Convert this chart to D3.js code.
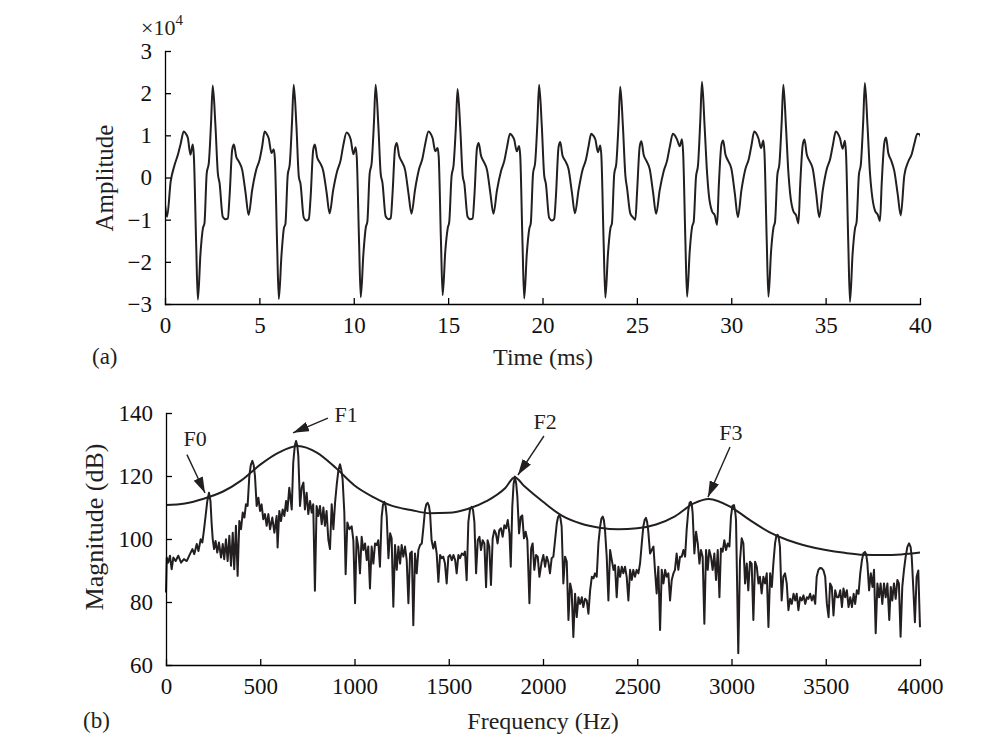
<!DOCTYPE html>
<html>
<head>
<meta charset="utf-8">
<script src="https://cdn.jsdelivr.net/npm/d3@7"></script>
<style>
	html, body { margin: 0; padding: 0; background: #fff; }
	svg { display: block; font-family: "Liberation Serif", "DejaVu Serif", serif; }
	.axis path, .axis line { stroke: #000; stroke-width: 1.3; }
	.axis text { font-family: "Liberation Serif", "DejaVu Serif", serif; font-size: 23px; fill: #111; }
</style>
</head>
<body>
<svg id="chart" width="1008" height="753"></svg>
<script>
(function (d3) {
	"use strict";

	/***** Data *****/

	// waveform: one row per pitch cycle, sampled at the same offsets (ms) after each broad peak
	var cycleOffset = [0, 0.10, 0.22, 0.36, 0.48, 0.54, 0.66, 0.75, 0.89, 1.02, 1.10, 1.22, 1.33, 1.45, 1.54,
		1.68, 1.81, 1.90, 2.07, 2.22, 2.34, 2.43, 2.57, 2.66, 2.78, 2.92, 3.10, 3.28, 3.44, 3.63, 3.84, 4.02, 4.16];
	var cycleStart = [-3.33, 0.99, 5.28, 9.62, 13.96, 18.28, 22.58, 26.91, 31.22, 35.54, 39.86];
	var cycleAmp = [
		[1.08,1.04,0.93,0.55,0.77, 0.50,-1.50,-2.85,-1.80,-1.20, -1.08,0.10,0.34,1.30,2.16, 1.24,0.10,-0.13,-0.92,-0.98, -0.96,-0.45,0.65,0.77,0.50, 0.38,0.18,-0.45,-0.93,-0.10, 0.30,0.55,0.80],
		[1.09,1.05,0.94,0.54,0.78, 0.50,-1.56,-2.90,-1.80,-1.20, -1.09,0.10,0.34,1.30,2.18, 1.25,0.10,-0.13,-0.93,-0.99, -0.97,-0.45,0.66,0.78,0.50, 0.38,0.18,-0.37,-0.89,-0.29, 0.18,0.42,0.74],
		[1.09,1.04,0.92,0.58,0.67, 0.45,-1.60,-2.88,-1.85,-1.20, -1.10,0.05,0.32,1.32,2.20, 1.25,0.02,-0.15,-0.95,-1.02, -0.98,-0.50,0.65,0.78,0.48, 0.36,0.16,-0.35,-0.85,-0.30, 0.15,0.40,0.75],
		[1.07,1.03,0.90,0.55,0.72, 0.48,-1.50,-2.84,-1.82,-1.18, -1.05,0.08,0.35,1.30,2.20, 1.26,0.08,-0.12,-0.92,-0.99, -0.96,-0.42,0.70,0.82,0.52, 0.38,0.18,-0.38,-0.86,-0.28, 0.20,0.45,0.78],
		[1.09,1.05,0.93,0.62,0.70, 0.50,-1.50,-2.79,-1.75,-1.20, -1.05,0.02,0.30,1.20,2.10, 1.20,0.05,-0.15,-0.93,-0.99, -0.97,-0.45,0.70,0.82,0.52, 0.38,0.18,-0.38,-0.86,-0.30, 0.15,0.40,0.72],
		[1.04,1.00,0.90,0.62,0.75, 0.52,-1.55,-2.87,-1.80,-1.22, -1.08,0.10,0.35,1.30,2.20, 1.25,0.05,-0.15,-0.95,-1.02, -0.98,-0.45,0.72,0.84,0.52, 0.40,0.20,-0.36,-0.85,-0.30, 0.18,0.42,0.74],
		[1.04,1.00,0.90,0.60,0.76, 0.50,-1.55,-2.85,-1.80,-1.20, -1.08,0.08,0.33,1.28,2.15, 1.22,0.05,-0.25,-0.85,-0.95, -1.00,-0.35,0.74,0.86,0.54, 0.40,0.20,-0.36,-0.86,-0.30, 0.15,0.40,0.72],
		[1.04,1.00,0.90,0.74,0.91, 0.60,-1.50,-2.83,-1.75,-1.16, -1.05,0.00,0.30,1.35,2.27, 1.20,0.10,-0.40,-0.80,-0.90, -1.12,-0.20,0.78,0.88,0.55, 0.40,0.20,-0.38,-0.94,-0.30, 0.20,0.44,0.76],
		[1.09,1.05,0.93,0.70,0.88, 0.58,-1.50,-2.83,-1.75,-1.18, -1.05,0.05,0.32,1.30,2.20, 1.20,0.10,-0.38,-0.80,-0.90, -1.09,-0.20,0.78,0.90,0.55, 0.40,0.20,-0.38,-0.94,-0.30, 0.20,0.44,0.76],
		[1.09,1.05,0.93,0.68,0.87, 0.58,-1.55,-2.95,-1.80,-1.20, -1.06,0.05,0.33,1.32,2.24, 1.22,0.10,-0.35,-0.78,-0.88, -1.03,-0.15,0.82,0.95,0.58, 0.42,0.15,-0.40,-0.90,0.05, 0.38,0.55,0.80],
		[1.04,1.03,0.92,0.70,0.88, 0.58,-1.50,-2.85,-1.80,-1.20, -1.06,0.05,0.33,1.30,2.20, 1.22,0.10,-0.35,-0.80,-0.90, -1.05,-0.20,0.80,0.90,0.55, 0.40,0.20,-0.38,-0.90,-0.30, 0.20,0.44,0.76]
	];

	// spectrum [Hz, dB]
	var spectrum = [
		[0,83],[4,94.1],[12,92.5],[21,94.7],[30,90.4],[39,94.1],[51,93],[65,94.7],[80,92.5],[95,93.6],[110,93],[127,95.2],[140,96.8],[150,95.2],
		[163,98.4],[172,96.2],[184,99.9],[193,98.9],[202,103.1],[210,107.3],[219,112],[228,114.7],[236,112],[242,105],[248,99.9],[255,96.8],
		[263,99.4],[272,95.7],[281,98.9],[292,94.1],[301,98.4],[309,93.6],[318,99.9],[327,93],[336,101],[345,91.5],[354,102],[362,90.4],
		[371,104.2],[380,88.3],[389,105.7],[398,103.1],[407,108.4],[416,106.8],[424,111],[433,110.5],[442,120],[450,123.5],[458,124.8],
		[465,123.5],[472,120],[481,110.5],[490,113.1],[499,108.9],[507,111],[516,106.3],[525,107.9],[534,104.2],[543,107.9],[552,103.1],
		[564,106.8],[575,102],[587,107.3],[592,97.3],[601,108.9],[610,105.7],[619,109.4],[628,107.3],[637,112.1],[644,108.9],[654,116.3],
		[667,109.4],[675,124.2],[683,129.5],[690,131.1],[697,129.5],[702,126.3],[711,110.5],[720,116.3],[729,117.9],[737,109.4],[746,114.7],
		[755,107.9],[764,112.1],[773,108.4],[781,111],[790,83.6],[799,110.5],[808,107.3],[817,110.5],[826,104.7],[835,110],[843,104.2],
		[852,108.9],[861,99.9],[870,96.8],[879,111],[888,103.1],[897,111.6],[906,117.4],[915,122],[923,123.7],[930,122],[937,118.9],
		[946,108.4],[953,88.8],[962,105.2],[973,103.1],[985,104],[994,99.6],
		[1003,79.6],[1011,100.7],[1020,97.6],[1029,89.1],[1038,100.7],[1047,96.5],[1056,98.6],[1065,93.3],[1073,97.6],[1082,84.3],
		[1091,97.6],[1100,92.2],[1109,98.6],[1118,98.1],[1126,99.6],[1135,91.2],[1144,107],[1151,110.8],[1158,111.8],[1165,110.5],
		[1171,107],[1180,93.9],[1189,101.8],[1197,100.2],[1206,78.5],[1215,98.1],[1224,90.2],[1233,97.6],[1242,92.2],[1250,98.1],
		[1259,94.4],[1268,97.6],[1277,93.3],[1286,79.6],[1295,95.4],[1304,96],[1312,72.6],[1321,95.4],[1330,89.1],[1339,96.5],
		[1348,98.1],[1357,98.6],[1366,103.9],[1374,109.2],[1381,111],[1388,111.5],[1395,110.5],[1401,108.1],[1409,99.6],[1418,97],
		[1427,99.1],[1436,95.4],[1445,86.4],[1454,94.9],[1463,93.9],[1471,94.4],[1480,92.2],[1489,85.9],[1498,94.4],[1507,94.9],
		[1516,93.3],[1525,94.9],[1534,93.3],[1542,89.1],[1551,94.9],[1560,93.9],[1569,95.4],[1578,94.9],[1586,96],[1595,86.9],
		[1604,105.4],[1613,109.5],[1622,110.2],[1629,109.2],[1636,105.4],[1645,89.1],[1654,99.6],[1663,100.7],[1671,96.5],[1680,99.6],
		[1689,98.6],[1698,84.7],[1706,99.6],[1715,97.6],[1724,85.4],[1733,100.2],[1742,102.8],[1750,101.8],[1759,98.6],[1768,102.8],
		[1777,103.4],[1786,100.7],[1795,104.4],[1804,103.4],[1813,106],[1822,101.8],[1829,91.2],[1837,110.2],[1844,117.5],[1851,119.8],
		[1858,117.5],[1864,113.4],[1873,101.8],[1882,107],[1890,107.5],[1899,100.2],[1908,102.3],[1917,99.6],[1928,79.6],[1937,97],
		[1945,98.6],[1954,90.2],[1963,94.9],[1972,94.4],[1981,88],[1993,92.8],
		[2002,94.9],[2011,91.2],[2020,94.4],[2028,92.8],[2037,89.1],[2046,93.9],[2055,94.4],[2064,99.6],[2073,104.9],[2080,107],
		[2087,107.6],[2093,106.5],[2099,103.9],[2108,85.9],[2117,94.4],[2126,92.8],[2135,74.3],[2144,85.9],[2152,83.7],[2161,68.9],
		[2170,82.6],[2179,75.2],[2188,81.5],[2197,79.4],[2206,81.5],[2214,78.4],[2223,81],[2232,80.5],[2241,76.3],[2250,83.7],
		[2259,88],[2268,87.5],[2276,89.1],[2285,88],[2294,98.6],[2303,103.9],[2310,106.5],[2317,107.1],[2323,106],[2329,102.8],
		[2338,94.4],[2347,80.5],[2356,96.5],[2365,93.3],[2374,90.2],[2382,91.7],[2391,81.5],[2400,91.2],[2409,88],[2418,91.2],
		[2426,89.1],[2435,91.2],[2444,88],[2453,80.5],[2462,90.2],[2471,87],[2479,90.2],[2488,88],[2497,90.2],[2506,89.1],
		[2515,92.3],[2524,98.6],[2532,103.9],[2539,106],[2546,106.7],[2552,105.5],[2558,102.8],[2568,95.4],[2577,96.5],[2586,97.6],
		[2594,90.2],[2603,82.7],[2612,91.2],[2621,71.1],[2630,90.2],[2639,85.9],[2648,90.2],[2656,88],[2665,89.1],[2674,80.5],
		[2683,87],[2692,89.1],[2700,90.2],[2709,95.4],[2718,90.2],[2727,94.4],[2736,94.4],[2745,96.5],[2754,94.4],[2762,102.8],
		[2771,109.2],[2778,111.5],[2784,111.8],[2790,110.5],[2794,108.1],[2803,95.4],[2812,102.3],[2821,98.6],[2830,92.2],[2838,96.5],
		[2847,94.4],[2856,73.1],[2865,96.5],[2874,90.2],[2882,96.5],[2891,94.4],[2900,90.2],[2909,95.4],[2918,87],[2927,96.5],
		[2936,81.5],[2944,97],[2953,96],[2962,99.6],[2971,96.5],[2980,98.6],[2989,97.6],[2997,107],[3005,110.5],
		[3013,110.8],[3020,108.5],[3024,106],[3036,63.7],[3045,93],[3054,100.2],[3063,98.6],[3072,85.9],[3081,92.2],[3089,83.7],
		[3098,92.8],[3107,92.2],[3116,74.3],[3125,92.8],[3134,91.2],[3143,85.9],[3151,88],[3160,82.7],[3169,88],[3178,85.9],
		[3187,89.1],[3196,72.1],[3205,89.1],[3214,84.8],[3222,92.2],[3231,98.6],[3238,101],[3245,101.3],[3251,100.2],[3257,97.6],
		[3266,80.5],[3275,88],[3284,89.1],[3293,85.9],[3302,77.4],[3311,81],[3320,79.4],[3329,82.6],[3338,80.5],[3346,82.6],
		[3355,77.4],[3364,81.5],[3373,80.5],[3382,82.1],[3391,79.4],[3400,81.5],[3408,81],[3417,82.6],[3426,80.5],[3435,82.1],
		[3444,79.4],[3452,88],[3461,90.2],[3470,90.8],[3479,90.7],[3488,90],[3497,88],[3506,79.4],[3515,75.2],[3523,85.9],
		[3532,84.8],[3541,75.7],[3550,83.7],[3559,81.5],[3568,81.5],[3577,83.7],[3586,78.4],[3594,84.3],[3603,81.5],[3612,83.7],
		[3621,78.4],[3630,81.5],[3639,78.4],[3648,82.6],[3656,79.4],[3665,83.7],[3674,82.6],[3683,89.1],[3692,93.3],[3700,95.5],
		[3708,95.9],[3715,95],[3721,92.2],[3730,83.7],[3739,89.1],[3748,84.8],[3756,90.2],[3765,70.1],[3774,85.9],[3783,81.5],
		[3791,85.9],[3800,79.4],[3809,85.9],[3818,81.5],[3827,85.9],[3837,74.3],[3845,84.8],[3853,80.5],[3862,85.9],[3871,81],
		[3880,87],[3888,85.9],[3897,69],[3906,84.8],[3915,90.2],[3924,94.4],[3933,97.5],[3942,98.6],[3950,97.5],[3956,94.4],
		[3965,83.7],[3973,73.6],[3982,88],[3991,90],[4000,72]
	];

	// smooth spectral envelope [Hz, dB]
	var envelope = [
		[0,110.8],[100,111.3],[200,112.8],[300,115.0],[400,118.6],[500,123.6],[600,127.5],[700,129.5],[800,127.4],[900,122.6],
		[1000,117.0],[1100,113.3],[1200,110.5],[1300,109.2],[1400,108.2],[1500,108.3],[1600,109.5],[1700,112.0],[1800,116.2],
		[1850,119.6],[1900,116.8],[2000,111.8],[2100,107.4],[2200,104.9],[2300,103.6],[2400,103.1],[2500,103.4],[2600,104.6],
		[2700,107.2],[2800,111.3],[2880,112.7],[3000,110.0],[3100,105.9],[3200,102.2],[3300,99.6],[3400,97.8],[3500,96.5],
		[3600,95.6],[3700,95.0],[3800,94.9],[3900,95.1],[4000,95.7]
	];

	// formant labels: text anchor, arrow start and arrow tip in [Hz, dB]
	var formants = [
		{ name: "F0", text: [154, 132.1], from: [111, 126.8], to: [207, 114.6] },
		{ name: "F1", text: [955, 139.7], from: [859, 138.4], to: [674, 133.7] },
		{ name: "F2", text: [2011, 137.5], from: [2005, 132.7], to: [1867, 120.3] },
		{ name: "F3", text: [2997, 134.0], from: [2992, 129.2], to: [2875, 113.3] }
	];

	// tick labels
	var timeTicks = [0, 5, 10, 15, 20, 25, 30, 35, 40];
	var ampTicks = [-3, -2, -1, 0, 1, 2, 3];
	var freqTicks = [0, 500, 1000, 1500, 2000, 2500, 3000, 3500, 4000];
	var magTicks = [60, 80, 100, 120, 140];

	/***** Constants *****/
	const ink = "#231f20";
	const tickLen = 6;

	var svg = d3.select("#chart");

	/***** Scales *****/
	var waveX = d3.scaleLinear().domain([0, 40]).range([165, 920]);
	var waveY = d3.scaleLinear().domain([-3, 3]).range([304, 51]);
	var specX = d3.scaleLinear().domain([0, 4000]).range([166, 920]);
	var specY = d3.scaleLinear().domain([60, 140]).range([665, 413]);

	/***** Panel (a): waveform *****/
	var wave = [];
	cycleStart.forEach(function (start, i) {
		cycleOffset.forEach(function (off, j) {
			wave.push([start + off, cycleAmp[i][j]]);
		});
	});

	svg.append("clipPath").attr("id", "waveClip")
		.append("rect")
		.attr("x", waveX(0)).attr("y", 0)
		.attr("width", waveX(40) - waveX(0)).attr("height", 753);

	svg.append("path")
		.datum(wave)
		.attr("clip-path", "url(#waveClip)")
		.attr("fill", "none")
		.attr("stroke", ink)
		.attr("stroke-width", 2)
		.attr("stroke-linejoin", "round")
		.attr("d", d3.line()
			.x(function (d) { return waveX(d[0]); })
			.y(function (d) { return waveY(d[1]); })
			.curve(d3.curveMonotoneX));

	drawAxes(waveX, waveY, timeTicks, ampTicks);

	// x10^4 multiplier
	var mult = svg.append("text")
		.attr("x", 141).attr("y", 35)
		.attr("font-size", 22).attr("fill", ink);
	mult.append("tspan").text("\u00d710");
	mult.append("tspan").attr("font-size", 15).attr("dy", -10).text("4");

	svg.append("text").attr("x", 543).attr("y", 365)
		.attr("text-anchor", "middle").attr("font-size", 24).attr("fill", ink)
		.text("Time (ms)");
	svg.append("text").attr("transform", "translate(113,178) rotate(-90)")
		.attr("text-anchor", "middle").attr("font-size", 25).attr("fill", ink)
		.text("Amplitude");
	svg.append("text").attr("x", 92).attr("y", 364)
		.attr("font-size", 23).attr("fill", ink).text("(a)");

	/***** Panel (b): spectrum *****/
	var specLine = d3.line()
		.x(function (d) { return specX(d[0]); })
		.y(function (d) { return specY(d[1]); });

	svg.append("path")
		.datum(spectrum)
		.attr("fill", "none")
		.attr("stroke", ink)
		.attr("stroke-width", 2)
		.attr("stroke-linejoin", "round")
		.attr("d", specLine);

	svg.append("path")
		.datum(envelope)
		.attr("fill", "none")
		.attr("stroke", ink)
		.attr("stroke-width", 2)
		.attr("d", specLine.curve(d3.curveMonotoneX));

	drawAxes(specX, specY, freqTicks, magTicks);

	// arrow heads
	svg.append("defs").append("marker")
		.attr("id", "head")
		.attr("markerUnits", "userSpaceOnUse")
		.attr("viewBox", "0 0 16 10")
		.attr("refX", 16).attr("refY", 5)
		.attr("markerWidth", 16).attr("markerHeight", 10)
		.attr("orient", "auto")
		.append("path")
		.attr("d", "M0,0L16,5L0,10Z")
		.attr("fill", ink);

	var notes = svg.append("g").selectAll("g")
		.data(formants)
		.enter().append("g");

	notes.append("line")
		.attr("x1", function (d) { return specX(d.from[0]); })
		.attr("y1", function (d) { return specY(d.from[1]); })
		.attr("x2", function (d) { return specX(d.to[0]); })
		.attr("y2", function (d) { return specY(d.to[1]); })
		.attr("stroke", ink)
		.attr("stroke-width", 1.4)
		.attr("marker-end", "url(#head)");

	notes.append("text")
		.attr("x", function (d) { return specX(d.text[0]); })
		.attr("y", function (d) { return specY(d.text[1]); })
		.attr("dy", "0.35em")
		.attr("text-anchor", "middle")
		.attr("font-size", 22)
		.attr("fill", ink)
		.text(function (d) { return d.name; });

	svg.append("text").attr("x", 543).attr("y", 729)
		.attr("text-anchor", "middle").attr("font-size", 24).attr("fill", ink)
		.text("Frequency (Hz)");
	svg.append("text").attr("transform", "translate(103,527) rotate(-90)")
		.attr("text-anchor", "middle").attr("font-size", 26).attr("fill", ink)
		.text("Magnitude (dB)");
	svg.append("text").attr("x", 83).attr("y", 728)
		.attr("font-size", 23).attr("fill", ink).text("(b)");


	/**
	 * Draws a left and a bottom axis with inward ticks.
	 *
	 * @param x       The horizontal scale.
	 * @param y       The vertical scale.
	 * @param xTicks  Values of the bottom ticks.
	 * @param yTicks  Values of the left ticks.
	 */
	function drawAxes(x, y, xTicks, yTicks) {
		svg.append("g")
			.attr("class", "axis")
			.attr("transform", "translate(0," + y.range()[0] + ")")
			.call(d3.axisBottom(x).tickValues(xTicks).tickFormat(d3.format("d"))
				.tickSizeInner(-tickLen).tickSizeOuter(0).tickPadding(13));

		svg.append("g")
			.attr("class", "axis")
			.attr("transform", "translate(" + x.range()[0] + ",0)")
			.call(d3.axisLeft(y).tickValues(yTicks).tickFormat(d3.format("d"))
				.tickSizeInner(-tickLen).tickSizeOuter(0).tickPadding(13));

		svg.selectAll(".axis .domain").attr("stroke-linecap", "square");
	}

})(d3);
</script>
</body>
</html>
